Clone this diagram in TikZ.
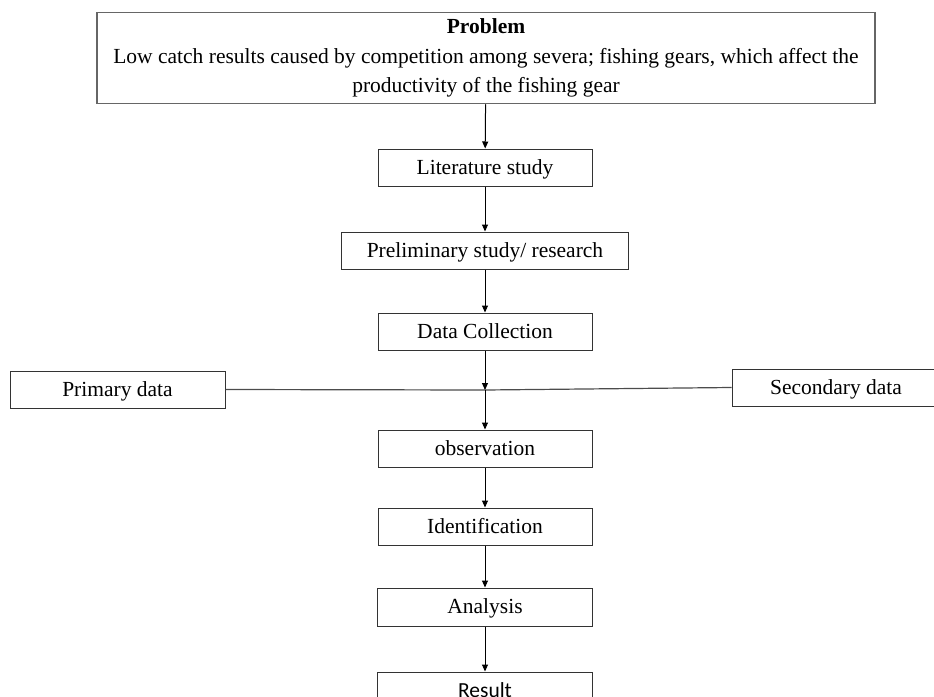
\documentclass[tikz,border=0pt]{standalone}
\usepackage{fontspec}
\setmainfont{Liberation Serif}
\newfontfamily\resultfont{Carlito}
\usetikzlibrary{arrows.meta}
\newcommand{\steptext}{\fontsize{21.5}{29.5}\selectfont}

\begin{document}
\begin{tikzpicture}[x=1pt,y=-1pt,>={Triangle[length=7pt,width=6pt]}]

    % `box' will be used by every step of the flow.
    % `flow' refers to the arrows between the steps.
    % `branch' is used for the line to the data sources.
    \tikzstyle{box} = [draw=black!80,line width=1pt,fill=white,inner sep=0pt,minimum height=37pt,text height=16pt,text depth=3pt,font=\steptext]
    \tikzstyle{flow} = [->,black,line width=1pt]
    \tikzstyle{branch} = [black!70,line width=1.2pt]
    %
    \useasboundingbox (0,0) rectangle (934,696);
    \clip (0,0) rectangle (934,696);

    % Problem statement.
    \node[box,draw=black!60,line width=1.5pt,minimum width=778pt,minimum height=91pt,text height=,text depth=,align=center] (prob) at (486,58)
        {\textbf{Problem}\\ Low catch results caused by competition among severa; fishing gears, which affect the\\ productivity of the fishing gear};

    % Main column.
    \node[box,minimum width=214pt] (lit) at (485,167.5) {Literature study};
    \node[box,minimum width=287pt] (pre) at (485,250.5) {Preliminary study/ research};
    \node[box,minimum width=214pt] (coll) at (485,331.5) {Data Collection};
    \coordinate (hub) at (485,390);
    \node[box,minimum width=214pt] (obs) at (485,448.5) {observation};
    \node[box,minimum width=214pt] (ident) at (485,526.5) {Identification};
    \node[box,minimum width=215pt,minimum height=38pt] (anal) at (485,607) {Analysis};
    \node[box,minimum width=215pt,minimum height=38pt,font=\resultfont\steptext] (res) at (485,691) {Result};

    % Data sources.
    \node[box,minimum width=215pt] (prim) at (117.5,389.5) {Primary data};
    \node[box,minimum width=208pt] (sec) at (836,387.5) {Secondary data};

    % Draw lines.
    \draw[branch] (prim.east) -- (hub) -- (sec.west);
    \draw[flow] (prob) -- (lit);
    \draw[flow] (lit) -- (pre);
    \draw[flow] (pre) -- (coll);
    \draw[flow] (coll) -- (hub);
    \draw[flow] (hub) -- (obs);
    \draw[flow] (obs) -- (ident);
    \draw[flow] (ident) -- (anal);
    \draw[flow] (anal) -- (res);
    %
\end{tikzpicture}
\end{document}
